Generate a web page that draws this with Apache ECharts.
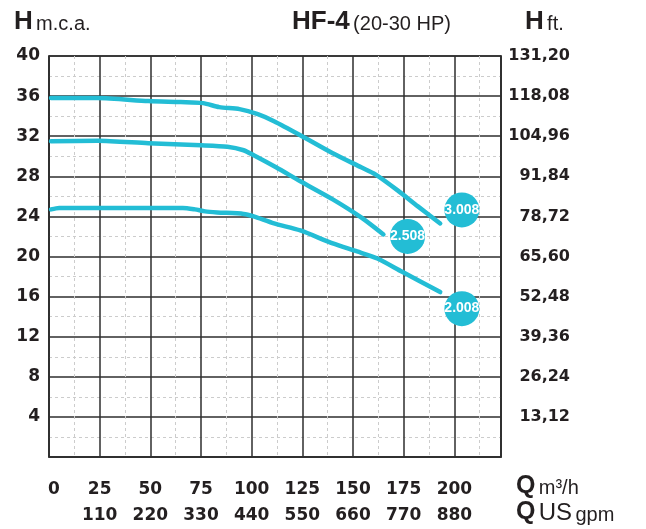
<!DOCTYPE html>
<html>
<head>
<meta charset="utf-8">
<script src="https://cdn.jsdelivr.net/npm/echarts@6/dist/echarts.min.js"></script>
<style>
html,body{margin:0;padding:0;background:#fff;}
#chart{width:646px;height:529px;}
</style>
</head>
<body>
<div id="chart"></div>
<script>
// Tick labels
const qTicks = [0, 25, 50, 75, 100, 125, 150, 175, 200];
const gpmTicks = ['', '110', '220', '330', '440', '550', '660', '770', '880'];
const hTicks = [4, 8, 12, 16, 20, 24, 28, 32, 36, 40];
const ftTicks = ['13,12', '26,24', '39,36', '52,48', '65,60', '78,72', '91,84', '104,96', '118,08', '131,20'];

// Curves [Q m3/h, H m]
const curve3008 = [[1,35.8],[24,35.8],[49,35.5],[65,35.4],[76,35.3],[84,34.9],[94,34.7],[103,34.2],[111,33.5],[124,32.1],[140,30.3],[154,28.9],[161,28.2],[172,26.6],[182,25.0],[193,23.3]];
const curve2508 = [[1,31.5],[24,31.55],[49,31.3],[75,31.1],[88,30.95],[96,30.6],[101,30.1],[112,28.9],[124,27.5],[140,25.7],[154,23.9],[165,22.2]];
const curve2008 = [[1,24.7],[5,24.85],[24,24.85],[66,24.85],[72,24.7],[77,24.5],[83,24.4],[96,24.25],[101,24.0],[111,23.3],[124,22.6],[140,21.3],[152,20.5],[162,19.8],[174,18.5],[193,16.45]];

// Model badges
const badgeNames = ['3.008', '2.508', '2.008'];
const badgeQ = [203.7, 176.9, 203.7];
const badgeH = [24.65, 22.0, 14.8];

const CYAN = '#23bdd5';
const DARK = '#2e2e2e';
const chart = echarts.init(document.getElementById('chart'), null, {renderer: 'canvas'});

const lineSeries = (data) => ({
  type: 'line', data: data, smooth: 0.25, symbol: 'none',
  lineStyle: {color: CYAN, width: 4.5, cap: 'round', join: 'round'},
  z: 5, silent: true
});

chart.setOption({
  animation: false,
  backgroundColor: '#fff',
  grid: {left: 49, right: 145, top: 56, bottom: 72, show: true, borderColor: DARK, borderWidth: 1.5, containLabel: false, outerBoundsMode: 'none'},
  xAxis: {
    type: 'value', min: 0, max: 223, interval: 25,
    axisLine: {show: true, lineStyle: {color: DARK, width: 1.5}},
    axisTick: {show: false},
    splitLine: {show: true, lineStyle: {color: DARK, width: 1.5}},
    minorTick: {show: false, splitNumber: 2},
    minorSplitLine: {show: true, lineStyle: {color: '#cccccc', width: 1, type: [3, 3]}},
    axisLabel: {
      margin: 20, showMaxLabel: false,
      formatter: function (v) {
        const i = qTicks.indexOf(v);
        if (i < 0) return '';
        return (i === 0 ? '{a0|' : '{a|') + qTicks[i] + '}\n{b|' + gpmTicks[i] + '}';
      },
      rich: {
        a: {fontFamily: 'DejaVu Sans', fontWeight: 'bold', fontSize: 17, color: '#231f20', lineHeight: 26},
        a0: {fontFamily: 'DejaVu Sans', fontWeight: 'bold', fontSize: 17, color: '#231f20', lineHeight: 26, padding: [0, 0, 0, 10]},
        b: {fontFamily: 'DejaVu Sans', fontWeight: 'bold', fontSize: 17, color: '#231f20', lineHeight: 26}
      }
    }
  },
  yAxis: [{
    type: 'value', min: 0, max: 40, interval: 4, position: 'left',
    axisLine: {show: true, lineStyle: {color: DARK, width: 1.5}},
    axisTick: {show: false},
    splitLine: {show: true, lineStyle: {color: DARK, width: 1.5}},
    minorTick: {show: false, splitNumber: 2},
    minorSplitLine: {show: true, lineStyle: {color: '#cccccc', width: 1, type: [3, 3]}},
    axisLabel: {
      margin: 9, fontFamily: 'DejaVu Sans', fontWeight: 'bold', fontSize: 17, color: '#231f20', padding: [4, 0, 0, 0],
      formatter: function (v) { const i = hTicks.indexOf(v); return i < 0 ? '' : String(hTicks[i]); }
    }
  }, {
    type: 'value', min: 0, max: 40, interval: 4, position: 'right',
    axisLine: {show: true, lineStyle: {color: DARK, width: 1.5}},
    axisTick: {show: false},
    splitLine: {show: false},
    axisLabel: {
      margin: 69, align: 'right', fontFamily: 'DejaVu Sans', fontWeight: 'bold', fontSize: 16, color: '#231f20', padding: [4, 0, 0, 0],
      formatter: function (v) { const i = hTicks.indexOf(v); return i < 0 ? '' : ftTicks[i]; }
    }
  }],
  series: [
    lineSeries(curve3008),
    lineSeries(curve2508),
    lineSeries(curve2008),
    {
      type: 'scatter', symbol: 'circle', symbolSize: 35, z: 6, silent: true,
      itemStyle: {color: CYAN, opacity: 1},
      data: badgeNames.map((n, i) => ({name: n, value: [badgeQ[i], badgeH[i]]})),
      label: {show: true, position: 'inside', formatter: '{b}', color: '#fff', fontFamily: 'Liberation Sans', fontWeight: 'bold', fontSize: 14}
    }
  ],
  graphic: [
    {type: 'text', left: 14, top: 9, style: {text: '{h|H} {t|m.c.a.}', rich: {
      h: {fontFamily: 'Liberation Sans', fontWeight: 'bold', fontSize: 26, fill: '#231f20'},
      t: {fontFamily: 'Liberation Sans', fontSize: 20, fill: '#231f20', padding: [4, 0, 0, 0]}
    }}},
    {type: 'text', left: 292, top: 9, style: {text: '{h|HF-4} {t|(20-30 HP)}', rich: {
      h: {fontFamily: 'Liberation Sans', fontWeight: 'bold', fontSize: 26, fill: '#231f20'},
      t: {fontFamily: 'Liberation Sans', fontSize: 20, fill: '#231f20', padding: [4, 0, 0, 0]}
    }}},
    {type: 'text', left: 525, top: 9, style: {text: '{h|H} {t|ft.}', rich: {
      h: {fontFamily: 'Liberation Sans', fontWeight: 'bold', fontSize: 26, fill: '#231f20'},
      t: {fontFamily: 'Liberation Sans', fontSize: 20, fill: '#231f20', padding: [4, 0, 0, 0]}
    }}},
    {type: 'text', left: 516, top: 474, style: {text: '{q|Q} {t|m³/h}', rich: {
      q: {fontFamily: 'Liberation Sans', fontWeight: 'bold', fontSize: 25, fill: '#231f20'},
      t: {fontFamily: 'Liberation Sans', fontSize: 20, fill: '#231f20', padding: [3, 0, 0, 0]}
    }}},
    {type: 'text', left: 516, top: 500, style: {text: '{q|Q} {u|US} {t|gpm}', rich: {
      q: {fontFamily: 'Liberation Sans', fontWeight: 'bold', fontSize: 25, fill: '#231f20'},
      u: {fontFamily: 'Liberation Sans', fontSize: 24, fill: '#231f20', padding: [1, 0, 0, 0]},
      t: {fontFamily: 'Liberation Sans', fontSize: 20, fill: '#231f20', padding: [5, 0, 0, 0]}
    }}}
  ]
});
</script>
</body>
</html>
